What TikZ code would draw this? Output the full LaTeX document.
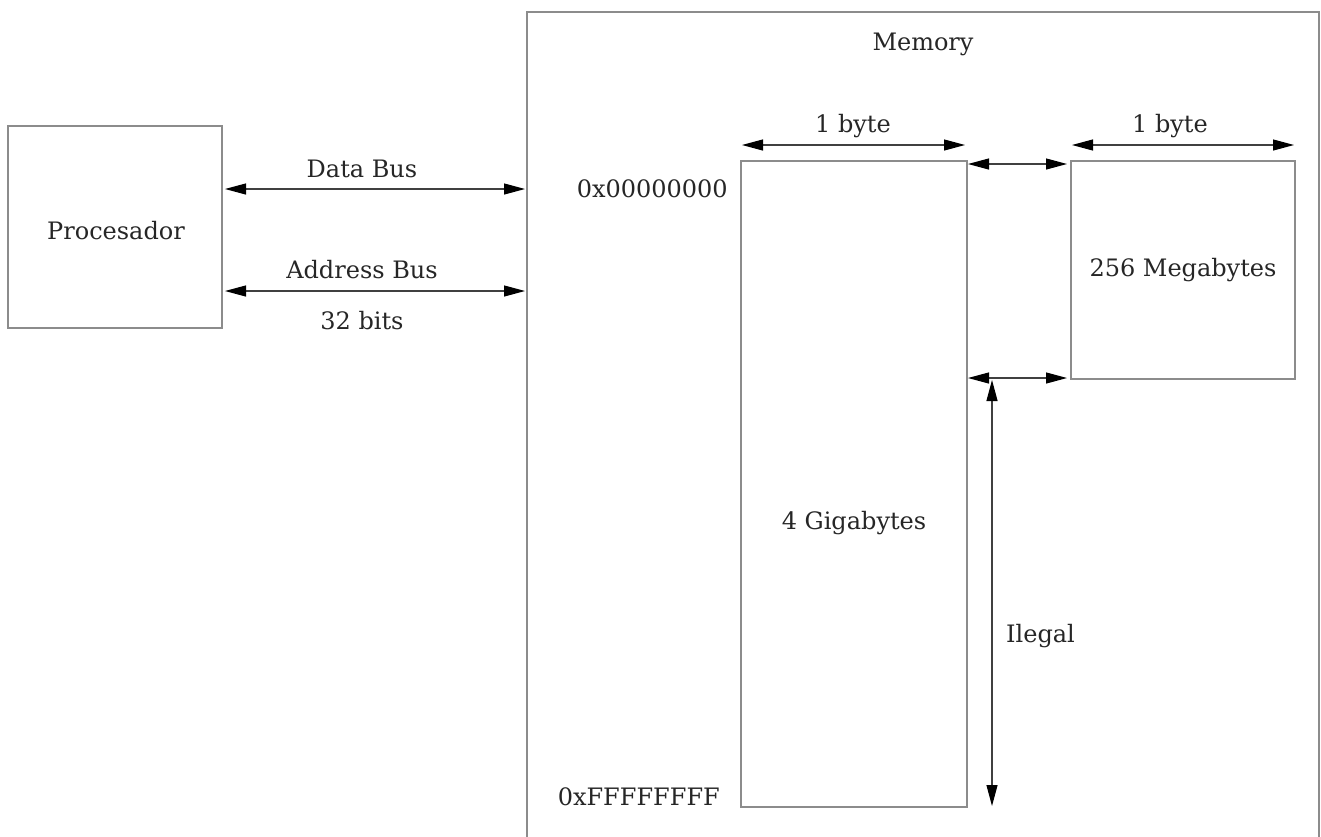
\documentclass[tikz,border=0pt]{standalone}
\usepackage{fontspec}
\setmainfont{DejaVu Serif}
\usetikzlibrary{arrows.meta}
\begin{document}
\begin{tikzpicture}[x=1pt,y=-1pt,
  box/.style={draw=black!45,line width=1.2pt},
  lbl/.style={font=\fontsize{24}{28}\selectfont,inner sep=0pt,text=black!85},
  bus/.style={draw=black!75,line width=1.1pt,{Triangle[length=21pt,width=11pt,color=black]}-{Triangle[length=21pt,width=11pt,color=black]}}]
\useasboundingbox (0,0) rectangle (1321,836);
\clip (0,0) rectangle (1321,836);
% processor
\draw[box] (8,126) rectangle (222,328);
\node[lbl] (proc) at (116,231) {Procesador};
\coordinate (pR1) at (225,189);
\coordinate (pR2) at (225,291);
% memory
\draw[box] (527,12) rectangle (1319,900);
\node[lbl] (mem) at (923,44) {Memory};
\coordinate (mL1) at (525,189);
\coordinate (mL2) at (525,291);
\draw[bus] (pR1) -- (mL1);
\draw[bus] (pR2) -- (mL2);
\node[lbl] (db) at (362,169) {Data Bus};
\node[lbl] (ab) at (362,270) {Address Bus};
\node[lbl] (bits) at (362,321) {32 bits};
% 4GB
\node[box,minimum width=226pt,minimum height=646pt,inner sep=0pt] (gb) at (854,484) {};
\node[lbl] at (gb.center) [yshift=-39pt] {4 Gigabytes};
\node[lbl] (b1) at (853,126) {1 byte};
\coordinate (b1l) at (742,145);
\coordinate (b1r) at (965,145);
\draw[bus] (b1l) -- (b1r);
\node[lbl,anchor=east] (a0) at (728,189) {0x00000000};
\node[lbl,anchor=east] (af) at (720,797) {0xFFFFFFFF};
% 256MB
\node[box,minimum width=224pt,minimum height=218pt,inner sep=0pt] (mb) at (1183,270) {};
\node[lbl] at (mb.center) {256 Megabytes};
\node[lbl] (b2) at (1170,126) {1 byte};
\coordinate (b2l) at (1072,145);
\coordinate (b2r) at (1294,145);
\draw[bus] (b2l) -- (b2r);
% mapping
\coordinate (m1l) at (968,164);
\coordinate (m1r) at (1067,164);
\coordinate (m2l) at (968,378);
\coordinate (m2r) at (1067,378);
\draw[bus] (m1l) -- (m1r);
\draw[bus] (m2l) -- (m2r);
\coordinate (il1) at (992,380);
\coordinate (il2) at (992,806);
\draw[bus] (il1) -- (il2);
\node[lbl,anchor=west] (ileg) at (1006,636) {Ilegal};
\end{tikzpicture}
\end{document}
